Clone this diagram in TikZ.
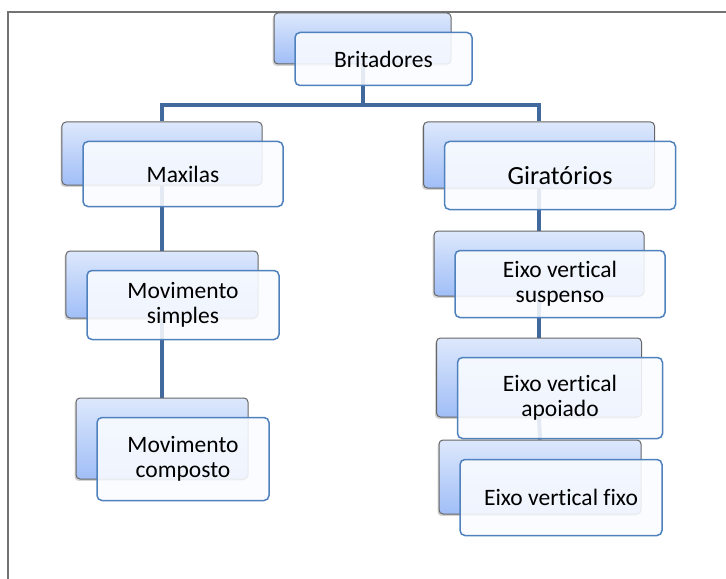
\documentclass[tikz,border=0pt]{standalone}
\usepackage{fontspec}
\setmainfont{Carlito}[Ligatures=NoCommon]
\usetikzlibrary{backgrounds,shadows}

\definecolor{linkblue}{RGB}{65,105,158}
\definecolor{edgeblue}{RGB}{79,129,189}
\definecolor{boxtop}{RGB}{221,232,252}
\definecolor{boxbot}{RGB}{160,190,247}
\definecolor{frontfill}{RGB}{250,252,255}

\tikzset{
  backbox/.style={rectangle, rounded corners=4bp, draw=gray!80!black, line width=1bp,
    top color=boxtop, bottom color=boxbot, inner sep=0pt,
    drop shadow={shadow xshift=-1.5pt, shadow yshift=-2pt, opacity=.35}},
  frontbox/.style={rectangle, rounded corners=5bp, draw=edgeblue, line width=1.5bp,
    fill=frontfill, fill opacity=.88, text opacity=1, inner sep=0pt, align=center,
    font=\fontsize{23.6}{25}\selectfont},
  link/.style={draw=linkblue, line width=4bp}
}

\begin{document}
\begin{tikzpicture}[x=1bp, y=-1bp]
\useasboundingbox (0,0) rectangle (726,579);

% frame
\draw[gray!90!black, line width=2bp] (726,12) -- (8,12) -- (8,579);

% boxes: back box, then the front box shifted by (21,20)
\foreach \nm/\x/\y/\w/\h/\txt in {
    brit/362.5/38.5/177/51/Britadores,
    max/162/153.5/200/63/Maxilas,
    gir/539/155/231/66/{\fontsize{26.3}{28}\selectfont Giratórios},
    ms/162/284.5/192/67/Movimento\\simples,
    mc/162/438.5/172/81/Movimento\\composto,
    evs/539/263.5/210/65/Eixo vertical\\suspenso,
    eva/539/377.5/205/79/Eixo vertical\\apoiado,
    evf/540/477/202/74/Eixo vertical fixo}
{
  \node[backbox, minimum width=\w bp, minimum height=\h bp] (\nm-b) at (\x,\y) {};
  \node[frontbox, minimum width=\w bp, minimum height=\h bp+2bp] (\nm) at (\x+21,\y+20.5) {\txt};
}

% connectors
\begin{scope}[on background layer]
  \coordinate (split) at (362.5,105);
  \draw[link] (brit-b.south) -- (split) -| (max-b.north);
  \draw[link] (split) -| (gir-b.north);
  \draw[link] (max-b.south) -- (ms-b.north);
  \draw[link] (ms-b.south) -- (mc-b.north);
  \draw[link] (gir-b.south) -- (evs-b.north);
  \draw[link] (evs-b.south) -- (eva-b.north);
  \draw[link] (eva-b.south) -- (evf-b.north);
\end{scope}
\end{tikzpicture}
\end{document}
